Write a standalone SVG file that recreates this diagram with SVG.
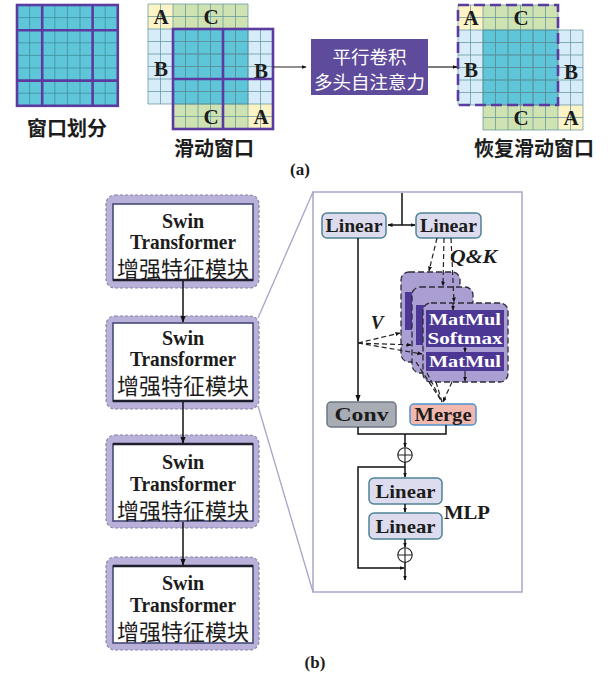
<svg xmlns="http://www.w3.org/2000/svg" xmlns:xlink="http://www.w3.org/1999/xlink" width="611" height="680" viewBox="0 0 611 680">
<defs>
  <marker id="ah" viewBox="0 0 10 10" refX="9" refY="5" markerWidth="7" markerHeight="7" markerUnits="userSpaceOnUse" orient="auto-start-reverse">
    <path d="M0,1.2 L10,5 L0,8.8 z" fill="#111"/>
  </marker>
  <marker id="ahs" viewBox="0 0 10 10" refX="9" refY="5" markerWidth="5" markerHeight="5" markerUnits="userSpaceOnUse" orient="auto-start-reverse">
    <path d="M0,1 L10,5 L0,9 z" fill="#111"/>
  </marker>
  <style>
    .cy{fill:#5fc6da}
    .lb{fill:#d6ecf8}
    .gr{fill:#cfe3b2}
    .ye{fill:#fcf4c6}
    .gl{fill:none;stroke:#5a8f98;stroke-width:0.7}
    .gl2{fill:none;stroke:#3f8e9c;stroke-width:0.8}
    .pu{fill:none;stroke:#5b3b9f;stroke-width:2.6}
    .let{font-family:"Liberation Serif","Times New Roman",serif;font-weight:bold;font-size:21px;fill:#1c1c1c;text-anchor:middle;dominant-baseline:central}
    .cap{font-family:"Noto Sans CJK SC",sans-serif;font-weight:bold;font-size:20px;fill:#1c1c1c;text-anchor:middle;dominant-baseline:central}
    .wt{font-family:"Noto Sans CJK SC",sans-serif;font-size:18.5px;fill:#ffffff;text-anchor:middle;dominant-baseline:central}
    .sub{font-family:"Liberation Serif","Times New Roman",serif;font-weight:bold;font-size:17px;fill:#1c1c1c;text-anchor:middle;dominant-baseline:central}
    .outer{fill:#b9b1da;stroke:#8a86a6;stroke-width:1.2;stroke-dasharray:3 2}
    .inner{fill:#ffffff;stroke:#474b78;stroke-width:1.6}
    .edge{stroke:#1f1f2e;stroke-width:2.6}
    .bl{font-family:"Liberation Serif","Times New Roman",serif;font-weight:bold;font-size:20px;fill:#1c1c1c;text-anchor:middle;dominant-baseline:central}
    .bc{font-family:"Noto Sans CJK SC",sans-serif;font-size:22px;fill:#1c1c1c;text-anchor:middle;dominant-baseline:central}
    .lin{fill:#dcdcee;stroke:#4e8296;stroke-width:1.5}
    .pt{font-family:"Liberation Serif","Times New Roman",serif;font-weight:bold;font-size:19px;fill:#1c1c1c;text-anchor:middle;dominant-baseline:central}
    .it{font-family:"Liberation Serif","Times New Roman",serif;font-weight:bold;font-style:italic;font-size:19px;fill:#1c1c1c;text-anchor:middle;dominant-baseline:central}
    .layer{fill:#aa9ed2;stroke:#2c2c38;stroke-width:1.3;stroke-dasharray:6 3}
    .dk{fill:#4d3795}
    .mt{font-family:"Liberation Serif","Times New Roman",serif;font-weight:bold;font-size:17px;fill:#ffffff;text-anchor:middle;dominant-baseline:central}
    .ln{fill:none;stroke:#111;stroke-width:1.5}
    .dl{fill:none;stroke:#222;stroke-width:1.2;stroke-dasharray:5 3}
    .zl{fill:none;stroke:#aaa2c8;stroke-width:1.3}
  </style>
  <!-- shifted 8x8 grid: back square at (148,4), front square at (173,29), cell 12.5 -->
  <g id="shift-grid">
    <rect class="ye" x="148" y="4" width="25" height="25"/>
    <rect class="gr" x="173" y="4" width="75" height="25"/>
    <rect class="lb" x="148" y="29" width="25" height="75"/>
    <rect class="cy" x="173" y="29" width="75" height="75"/>
    <rect class="lb" x="248" y="29" width="25" height="75"/>
    <rect class="gr" x="173" y="104" width="75" height="25"/>
    <rect class="ye" x="248" y="104" width="25" height="25"/>
    <path class="gl" d="M148 4V104M160.5 4V104M173 4V104M185.5 4V104M198 4V104M210.5 4V104M223 4V104M235.5 4V104M248 4V104M148 4H248M148 16.5H248M148 29H248M148 41.5H248M148 54H248M148 66.5H248M148 79H248M148 91.5H248M148 104H248"/>
    <path class="gl" d="M173 29V129M185.5 29V129M198 29V129M210.5 29V129M223 29V129M235.5 29V129M248 29V129M260.5 29V129M273 29V129M173 29H273M173 41.5H273M173 54H273M173 66.5H273M173 79H273M173 91.5H273M173 104H273M173 116.5H273M173 129H273"/>
    <text class="let" x="161" y="17">A</text>
    <text class="let" x="211" y="17">C</text>
    <text class="let" x="161" y="69">B</text>
    <text class="let" x="261" y="71">B</text>
    <text class="let" x="211" y="117">C</text>
    <text class="let" x="261" y="117">A</text>
  </g>
</defs>

<rect x="0" y="0" width="611" height="680" fill="#ffffff"/>

<!-- (a) window partition -->
<g id="window-partition">
  <rect class="cy" x="17" y="5" width="100.8" height="100.8"/>
  <path class="gl2" d="M29.6 5V105.8M42.2 5V105.8M54.8 5V105.8M67.4 5V105.8M80 5V105.8M92.6 5V105.8M105.2 5V105.8M17 17.6H117.8M17 30.2H117.8M17 42.8H117.8M17 55.4H117.8M17 68H117.8M17 80.6H117.8M17 93.2H117.8"/>
  <rect class="pu" x="17" y="5" width="100.8" height="100.8"/>
  <path class="pu" d="M42.2 5V105.8M92.6 5V105.8M17 30.2H117.8M17 80.6H117.8"/>
  <text class="cap" x="67" y="127">窗口划分</text>
</g>

<g id="sliding-window">
  <use xlink:href="#shift-grid" href="#shift-grid"/>
  <rect class="pu" x="173" y="29" width="100" height="100"/>
  <path class="pu" d="M223 29V129M173 79H273"/>
  <text class="cap" x="214" y="147">滑动窗口</text>
</g>

<g id="parallel-attention">
  <rect x="311" y="39" width="117" height="56" fill="#5f4b9b"/>
  <text class="wt" x="369.5" y="55.5">平行卷积</text>
  <text class="wt" x="369.5" y="80.5">多头自注意力</text>
</g>

<g id="restored-window">
  <use xlink:href="#shift-grid" href="#shift-grid" x="310" y="1"/>
  <rect class="pu" x="458" y="5" width="100" height="100" stroke-dasharray="11 5"/>
  <text class="cap" x="534" y="147">恢复滑动窗口</text>
</g>

<g id="connectors-a">
  <line x1="273" y1="67" x2="306" y2="67" stroke="#222" stroke-width="1.2" marker-end="url(#ahs)"/>
  <line x1="428" y1="67" x2="457" y2="67" stroke="#222" stroke-width="1.2" marker-end="url(#ahs)"/>
</g>

<text class="sub" x="300" y="169">(a)</text>

<!-- (b) stacked Swin Transformer blocks -->
<g id="swin-block-1">
  <rect class="outer" x="106" y="195" width="153" height="93" rx="9"/>
  <rect class="inner" x="113" y="204" width="140" height="76"/>
  <path class="edge" d="M113 280H253"/>
  <text class="bl" x="183" y="221">Swin</text>
  <text class="bl" x="183" y="242" textLength="106" lengthAdjust="spacingAndGlyphs">Transformer</text>
  <text class="bc" x="183" y="267">增强特征模块</text>
</g>
<g id="swin-block-2">
  <rect class="outer" x="106" y="316" width="153" height="93" rx="9"/>
  <rect class="inner" x="113" y="323" width="140" height="78"/>
  <path class="edge" d="M113 401H253"/>
  <text class="bl" x="183" y="338">Swin</text>
  <text class="bl" x="183" y="359" textLength="106" lengthAdjust="spacingAndGlyphs">Transformer</text>
  <text class="bc" x="183" y="384">增强特征模块</text>
</g>
<g id="swin-block-3">
  <rect class="outer" x="106" y="435" width="153" height="93" rx="9"/>
  <rect class="inner" x="113" y="444" width="140" height="77"/>
  <path class="edge" d="M113 444H253"/>
  <text class="bl" x="183" y="462">Swin</text>
  <text class="bl" x="183" y="484" textLength="106" lengthAdjust="spacingAndGlyphs">Transformer</text>
  <text class="bc" x="183" y="509">增强特征模块</text>
</g>
<g id="swin-block-4">
  <rect class="outer" x="106" y="557" width="153" height="93" rx="9"/>
  <rect class="inner" x="113" y="566" width="140" height="77"/>
  <path class="edge" d="M113 566H253"/>
  <text class="bl" x="183" y="583">Swin</text>
  <text class="bl" x="183" y="605" textLength="106" lengthAdjust="spacingAndGlyphs">Transformer</text>
  <text class="bc" x="183" y="630">增强特征模块</text>
</g>

<!-- detail panel of one block -->
<g id="detail-panel">
  <rect x="313" y="192" width="209" height="400" fill="#ffffff" stroke="#b3abcc" stroke-width="1.6"/>
</g>

<g id="linear-v">
  <rect class="lin" x="322" y="213" width="64" height="25" rx="5"/>
  <text class="pt" x="354" y="225.5" textLength="57" lengthAdjust="spacingAndGlyphs">Linear</text>
</g>
<g id="linear-qk">
  <rect class="lin" x="416" y="213" width="65" height="25" rx="5"/>
  <text class="pt" x="448.5" y="225.5" textLength="57" lengthAdjust="spacingAndGlyphs">Linear</text>
</g>
<text class="it" x="473.5" y="256" textLength="47" lengthAdjust="spacingAndGlyphs">Q&amp;K</text>
<text class="it" x="377" y="322">V</text>

<g id="attention-heads">
  <rect class="layer" x="401" y="272" width="59" height="90" rx="8"/>
  <rect class="dk" x="405" y="292" width="40" height="38"/>
  <rect class="layer" x="412" y="287" width="61" height="86" rx="8"/>
  <rect class="dk" x="416" y="305" width="40" height="40"/>
  <rect class="layer" x="423" y="303" width="85" height="79" rx="8"/>
  <rect class="dk" x="426" y="310" width="78" height="37"/>
  <rect class="dk" x="426" y="352" width="78" height="19"/>
  <text class="mt" x="465" y="319" textLength="72" lengthAdjust="spacingAndGlyphs">MatMul</text>
  <text class="mt" x="465" y="338" textLength="75" lengthAdjust="spacingAndGlyphs">Softmax</text>
  <text class="mt" x="465" y="361.5" textLength="72" lengthAdjust="spacingAndGlyphs">MatMul</text>
</g>

<g id="conv">
  <rect x="327" y="402" width="69" height="25" rx="4" fill="#a8acb4" stroke="#6d7585" stroke-width="1.5"/>
  <text class="pt" x="361.5" y="414.5" font-size="20" textLength="54" lengthAdjust="spacingAndGlyphs">Conv</text>
</g>
<g id="merge">
  <rect x="410" y="404" width="66" height="21" rx="4" fill="#f2b8ad" stroke="#4f93cf" stroke-width="1.5"/>
  <text class="pt" x="443" y="414.5" font-size="20" textLength="57" lengthAdjust="spacingAndGlyphs">Merge</text>
</g>
<g id="add-1">
  <circle cx="405" cy="455" r="7.2" fill="#ffffff" stroke="#222" stroke-width="1.1"/>
  <path d="M397.8 455H412.2M405 447.8V462.2" stroke="#222" stroke-width="1.1"/>
</g>
<g id="mlp-linear-1">
  <rect class="lin" x="369" y="478" width="73" height="26" rx="5"/>
  <text class="pt" x="405.5" y="491" textLength="60" lengthAdjust="spacingAndGlyphs">Linear</text>
</g>
<g id="mlp-linear-2">
  <rect class="lin" x="369" y="513" width="73" height="26" rx="5"/>
  <text class="pt" x="405.5" y="526" textLength="60" lengthAdjust="spacingAndGlyphs">Linear</text>
</g>
<text class="pt" x="467" y="512" font-size="20" textLength="46" lengthAdjust="spacingAndGlyphs">MLP</text>
<g id="add-2">
  <circle cx="405" cy="555" r="7.2" fill="#ffffff" stroke="#222" stroke-width="1.1"/>
  <path d="M397.8 555H412.2M405 547.8V562.2" stroke="#222" stroke-width="1.1"/>
</g>

<g id="connectors">
  <!-- block chain -->
  <line class="ln" x1="183" y1="281" x2="183" y2="322" marker-end="url(#ah)"/>
  <line class="ln" x1="183" y1="402" x2="183" y2="443" marker-end="url(#ah)"/>
  <line class="ln" x1="183" y1="522" x2="183" y2="565" marker-end="url(#ah)"/>
  <!-- zoom guides -->
  <line class="zl" x1="258" y1="318" x2="313" y2="192"/>
  <line class="zl" x1="258" y1="406" x2="313" y2="592"/>
  <!-- input split to the two linear layers -->
  <line class="ln" x1="402" y1="193" x2="402" y2="225"/>
  <line class="ln" x1="388" y1="225" x2="415" y2="225" marker-start="url(#ahs)" marker-end="url(#ahs)"/>
  <!-- V path -->
  <line class="ln" x1="358" y1="238" x2="358" y2="401" marker-end="url(#ah)"/>
  <path class="dl" d="M358 343L400 333" marker-end="url(#ahs)"/>
  <path class="dl" d="M358 343L411 345" marker-end="url(#ahs)"/>
  <path class="dl" d="M358 343L422 354" marker-end="url(#ahs)"/>
  <!-- Q&K paths -->
  <path class="dl" d="M437 238L429 271" marker-end="url(#ahs)"/>
  <path class="dl" d="M444 238L443 286" marker-end="url(#ahs)"/>
  <path class="dl" d="M451 238L454 302" marker-end="url(#ahs)"/>
  <!-- inside the front head -->
  <line x1="453" y1="303" x2="453" y2="310" stroke="#111" stroke-width="1" marker-end="url(#ahs)"/>
  <line x1="465" y1="347" x2="465" y2="352" stroke="#111" stroke-width="1" marker-end="url(#ahs)"/>
  <line x1="465" y1="371" x2="465" y2="381" stroke="#111" stroke-width="1" marker-end="url(#ahs)"/>
  <!-- heads to merge -->
  <path class="dl" d="M416 362L442 402"/>
  <path class="dl" d="M427 373L442 402"/>
  <path class="dl" d="M436 382L442 402"/>
  <path class="dl" d="M452 382L443 402" marker-end="url(#ahs)"/>
  <!-- conv + merge join -->
  <path class="ln" d="M358 427V434H446V425"/>
  <line class="ln" x1="405" y1="434" x2="405" y2="447" marker-end="url(#ahs)"/>
  <line class="ln" x1="405" y1="462" x2="405" y2="477" marker-end="url(#ahs)"/>
  <path class="ln" d="M405 467H358V568H404" marker-end="url(#ahs)"/>
  <line class="ln" x1="405" y1="504" x2="405" y2="512" marker-end="url(#ahs)"/>
  <line class="ln" x1="405" y1="539" x2="405" y2="547" marker-end="url(#ahs)"/>
  <line class="ln" x1="405" y1="562" x2="405" y2="580" marker-end="url(#ahs)"/>
</g>

<text class="sub" x="315" y="662">(b)</text>
</svg>
